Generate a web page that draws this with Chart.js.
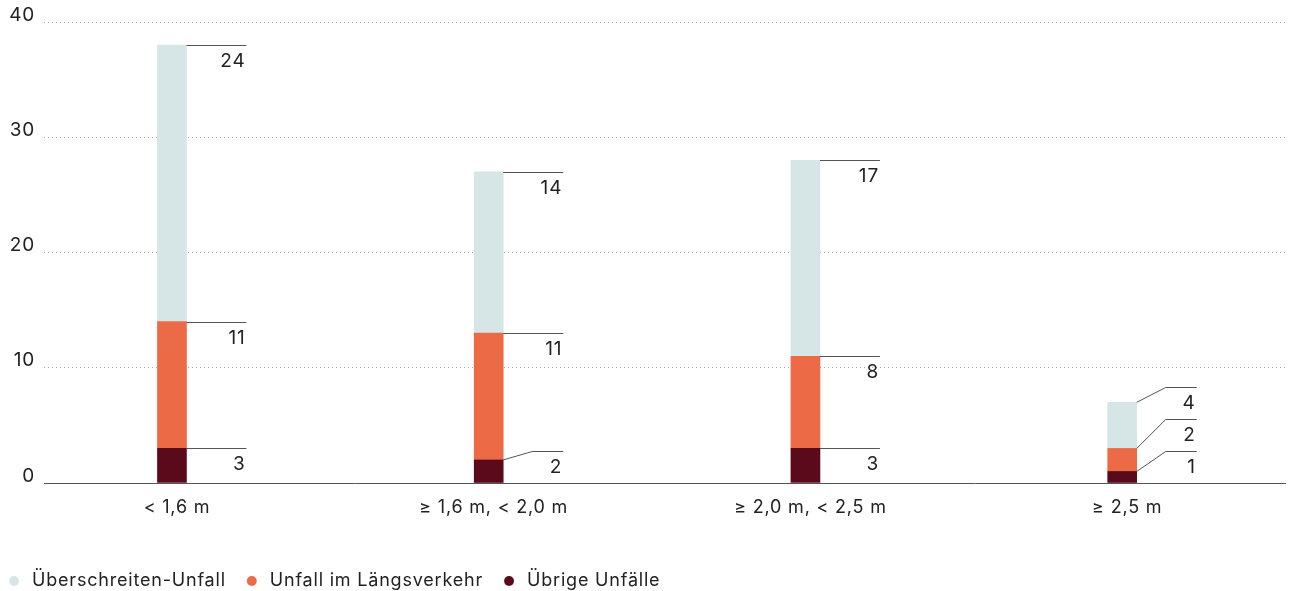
<!DOCTYPE html>
<html lang="de">
<head>
<meta charset="utf-8">
<title>Unfälle nach Fahrbahnbreite</title>
<script src="https://cdn.jsdelivr.net/npm/chart.js@4.4.1/dist/chart.umd.min.js"></script>
<style>
  html, body { margin: 0; padding: 0; background: #fff; }
  #wrap { width: 1298px; height: 591px; position: relative; }
</style>
</head>
<body>
<div id="wrap"><canvas id="chart"></canvas></div>
<script>
const categories = ['< 1,6 m', '≥ 1,6 m, < 2,0 m', '≥ 2,0 m, < 2,5 m', '≥ 2,5 m'];
const uebrigeUnfaelle = [3, 2, 3, 1];
const laengsverkehr = [11, 11, 8, 2];
const ueberschreiten = [24, 14, 17, 4];
const yTicks = [0, 10, 20, 30, 40];

const FONT = 'Inter, "Liberation Sans", sans-serif';
const TEXT = '#222';

// slightly wider tracking for all canvas text (reset whenever the canvas is resized)
const tracking = {
  id: 'tracking',
  beforeLayout(chart) { chart.ctx.letterSpacing = '0.8px'; },
  beforeDraw(chart) { chart.ctx.letterSpacing = '0.8px'; }
};

// value labels to the right of every segment, with a leader line;
// labels that would collide are pushed upward and get an angled line
const leaderLabels = {
  id: 'leaderLabels',
  afterDatasetsDraw(chart) {
    const { ctx } = chart;
    const zero = chart.scales.y.getPixelForValue(0);
    ctx.save();
    ctx.strokeStyle = '#555';
    ctx.lineWidth = 1;
    ctx.fillStyle = TEXT;
    ctx.font = '19px ' + FONT;
    ctx.textAlign = 'right';
    ctx.textBaseline = 'alphabetic';
    categories.forEach((cat, idx) => {
      let limit = zero - 32;
      chart.data.datasets.forEach((ds, di) => {
        const bar = chart.getDatasetMeta(di).data[idx];
        const { x, y, width } = bar.getProps(['x', 'y', 'width'], true);
        const right = x + width / 2;
        const lineY = Math.round(Math.min(y, limit)) + 0.5;
        limit = lineY - 33;
        ctx.beginPath();
        if (y - lineY > 1.5) {
          ctx.moveTo(right, y);
          ctx.lineTo(right + 29, lineY);
        } else {
          ctx.moveTo(right, lineY);
        }
        ctx.lineTo(right + 60, lineY);
        ctx.stroke();
        ctx.fillText(String(ds.data[idx].y), right + 59, lineY + 21);
      });
    });
    ctx.restore();
  }
};

const toPoints = (values) => values.map((v, i) => ({ x: i, y: v }));

new Chart(document.getElementById('chart'), {
  type: 'bar',
  data: {
    datasets: [
      { label: 'Übrige Unfälle', data: toPoints(uebrigeUnfaelle), backgroundColor: '#5a0a1b' },
      { label: 'Unfall im Längsverkehr', data: toPoints(laengsverkehr), backgroundColor: '#ec6b46' },
      { label: 'Überschreiten-Unfall', data: toPoints(ueberschreiten), backgroundColor: '#d6e6e6' }
    ]
  },
  options: {
    responsive: true,
    maintainAspectRatio: false,
    animation: false,
    datasets: { bar: { barThickness: 29 } },
    layout: { padding: { left: -12, right: 13, top: 22, bottom: -9 } },
    scales: {
      x: {
        type: 'linear',
        stacked: true,
        offset: false,
        min: -0.404,
        max: 3.514,
        afterBuildTicks: (scale) => { scale.ticks = categories.map((c, i) => ({ value: i })); },
        afterFit: (scale) => { scale.height = 72; },
        grid: { display: false, drawTicks: false },
        border: { display: true, color: '#555', width: 1 },
        ticks: {
          padding: 14,
          labelOffset: 5,
          color: TEXT,
          font: { family: FONT, size: 18 },
          maxRotation: 0,
          callback: (v) => categories[v]
        }
      },
      y: {
        stacked: true,
        min: 0,
        max: 40,
        afterBuildTicks: (scale) => { scale.ticks = yTicks.map(v => ({ value: v })); },
        afterFit: (scale) => { scale.width = 56; },
        grid: {
          drawTicks: false,
          color: (c) => c.tick && c.tick.value === 0 ? 'rgba(0,0,0,0)' : '#a8a8a8',
          lineWidth: 1
        },
        border: { display: false, dash: [1, 3] },
        ticks: {
          padding: 9,
          labelOffset: -7,
          color: TEXT,
          font: { family: FONT, size: 19 }
        }
      }
    },
    plugins: {
      tooltip: { enabled: false },
      legend: {
        position: 'bottom',
        align: 'start',
        reverse: true,
        labels: {
          usePointStyle: true,
          pointStyle: 'circle',
          boxWidth: 22,
          boxHeight: 7,
          padding: 17,
          color: TEXT,
          font: { family: FONT, size: 18 }
        }
      }
    }
  },
  plugins: [tracking, leaderLabels]
});
</script>
</body>
</html>
